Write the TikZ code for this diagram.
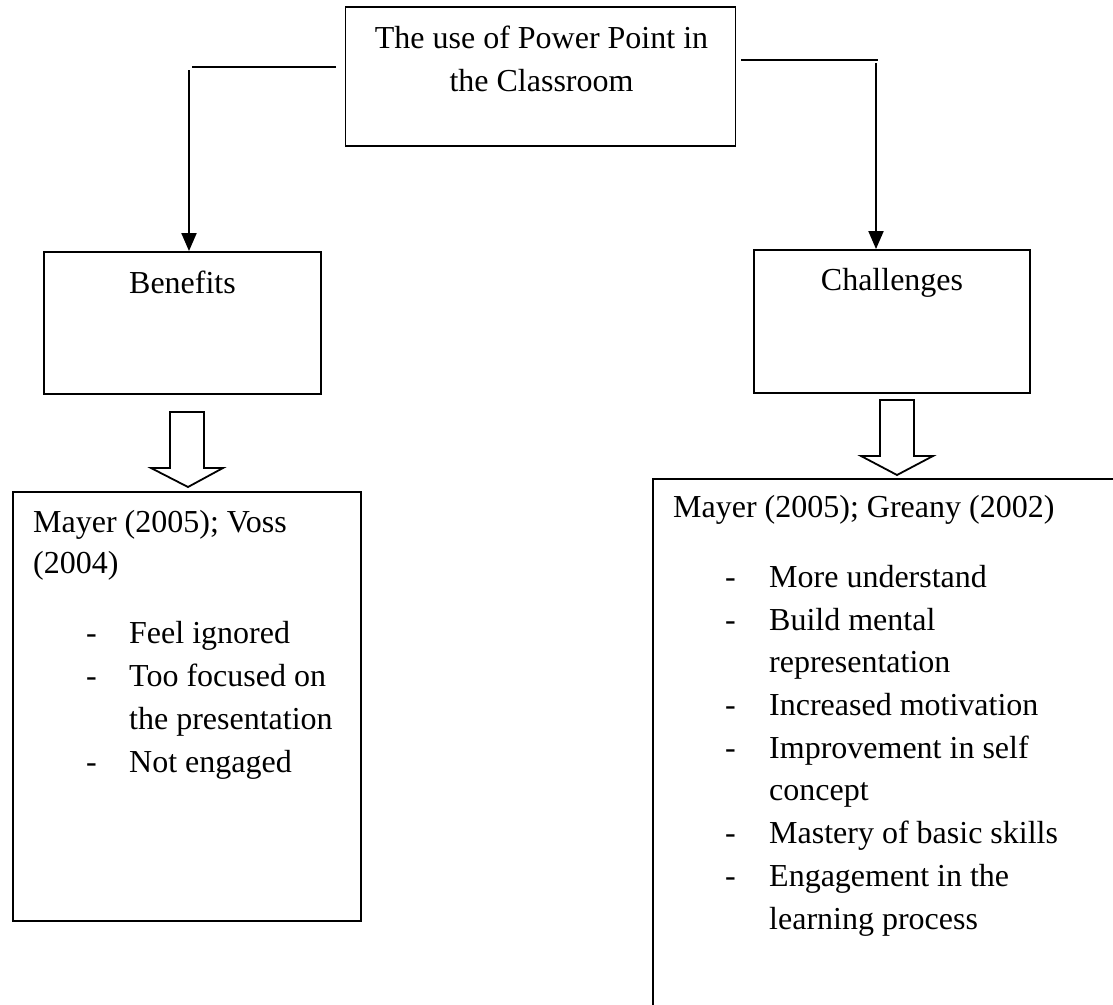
\documentclass[tikz,border=0pt]{standalone}
\usepackage{fontspec}
\setmainfont{Liberation Serif}
\usetikzlibrary{arrows.meta}
\begin{document}
\begin{tikzpicture}[x=1pt,y=-1pt,
  box/.style={draw, line width=1.9pt, inner sep=0pt},
  txt/.style={inner sep=0pt, font=\fontsize{32}{42.5}\selectfont},
  conn/.style={line width=2pt},
  arr/.style={conn, -{Triangle[width=15pt,length=18pt]}},
  blockarrow/.style={draw, line width=1.8pt, fill=white, line join=miter}]
\useasboundingbox (0,0) rectangle (1113,1004);
\clip (0,0) rectangle (1113,1004);
\fill[white] (0,0) rectangle (1113,1004);

% boxes
\node[box, minimum width=390pt, minimum height=139pt] (top) at (540.5,76.5) {};
\node[box, minimum width=277pt, minimum height=142pt] (ben) at (182.5,323) {};
\node[box, minimum width=276pt, minimum height=143pt] (cha) at (892,321.5) {};
\node[box, minimum width=348pt, minimum height=429pt] (lbox) at (187,706.5) {};
\node[box, minimum width=480pt, minimum height=540pt, anchor=north west] (rbox) at (652,478) {};

% box titles
\node[txt, anchor=base] (t1) at (541.5,48) {The use of Power Point in};
\node[txt, anchor=base] (t2) at (541.5,91) {the Classroom};
\node[txt, anchor=base] (bent) at (182.5,293) {Benefits};
\node[txt, anchor=base] (chat) at (892,290) {Challenges};

% connectors
\coordinate (la) at (336,67);
\coordinate (lb) at (192,67);
\coordinate (lc) at (189,70);
\draw[conn] (la) -- (lb);
\draw[arr] (lc) -- (lc |- ben.north);
\coordinate (ra) at (741,60);
\coordinate (rb) at (878,60);
\coordinate (rc) at (876,63);
\draw[conn] (ra) -- (rb);
\draw[arr] (rc) -- (rc |- cha.north);

% block arrows
\draw[blockarrow] (170,412) -- (204,412) -- (204,468) -- (223,468) -- (188,487) -- (151,468) -- (170,468) -- cycle;
\draw[blockarrow] (880,400) -- (914,400) -- (914,456) -- (933,456) -- (897,475) -- (861,456) -- (880,456) -- cycle;

% left list
\node[txt, anchor=base west] (l1) at (33,532) {Mayer (2005); Voss};
\node[txt, anchor=base west] (l2) at (33,573) {(2004)};
\node[txt, anchor=base west] (ld1) at (86,643) {-};
\node[txt, anchor=base west] (ld2) at (86,686) {-};
\node[txt, anchor=base west] (ld3) at (86,772) {-};
\node[txt, anchor=base west] (li1) at (129,643) {Feel ignored};
\node[txt, anchor=base west] (li2) at (129,686) {Too focused on};
\node[txt, anchor=base west] (li3) at (129,729) {the presentation};
\node[txt, anchor=base west] (li4) at (129,772) {Not engaged};

% right list
\node[txt, anchor=base west] (r1) at (673,517) {Mayer (2005); Greany (2002)};
\node[txt, anchor=base west] (rd1) at (725,587) {-};
\node[txt, anchor=base west] (rd2) at (725,630) {-};
\node[txt, anchor=base west] (rd3) at (725,715) {-};
\node[txt, anchor=base west] (rd4) at (725,758) {-};
\node[txt, anchor=base west] (rd5) at (725,843) {-};
\node[txt, anchor=base west] (rd6) at (725,886) {-};
\node[txt, anchor=base west] (ri1) at (769,587) {More understand};
\node[txt, anchor=base west] (ri2) at (769,630) {Build mental};
\node[txt, anchor=base west] (ri3) at (769,672) {representation};
\node[txt, anchor=base west] (ri4) at (769,715) {Increased motivation};
\node[txt, anchor=base west] (ri5) at (769,758) {Improvement in self};
\node[txt, anchor=base west] (ri6) at (769,800) {concept};
\node[txt, anchor=base west] (ri7) at (769,843) {Mastery of basic skills};
\node[txt, anchor=base west] (ri8) at (769,886) {Engagement in the};
\node[txt, anchor=base west] (ri9) at (769,929) {learning process};
\end{tikzpicture}
\end{document}
